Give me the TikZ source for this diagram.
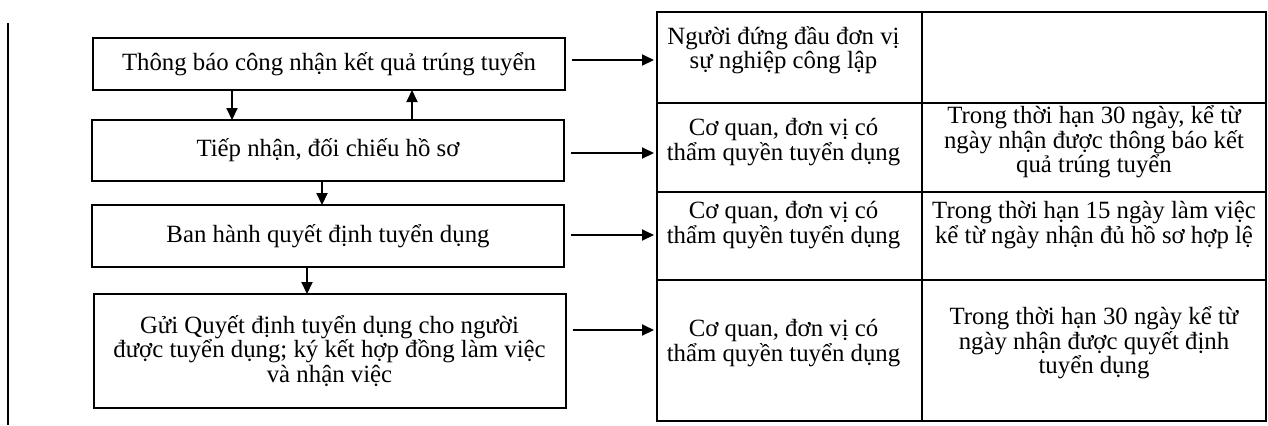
\documentclass[tikz,border=0pt]{standalone}
\usepackage{fontspec}
\setmainfont{Liberation Serif}
\usetikzlibrary{arrows.meta}
\begin{document}
\begin{tikzpicture}[x=0.5pt,y=-0.5pt,
  every node/.style={font=\fontsize{12.4}{12.3}\selectfont},
  stepbox/.style={draw,line width=1pt,minimum width=236pt,inner sep=0pt,outer sep=0pt,align=center},
  cell/.style={draw,line width=0.8pt,inner sep=0pt,outer sep=0pt},
  celltext/.style={align=center,inner sep=0pt},
  arr/.style={line width=1pt,-{Triangle[length=6pt,width=5.5pt]}},
  harr/.style={arr,shorten <=3.5pt,shorten >=1.5pt}]
\useasboundingbox (0,0) rectangle (1268,425);

% margin rule on the left
\draw[line width=1pt] (8,23) -- (8,425);

% process steps
\node[stepbox,minimum height=26pt]   (b1) at (329,64)    {Thông báo công nhận kết quả trúng tuyển};
\node[stepbox,minimum height=30.5pt] (b2) at (328,150.5) {Tiếp nhận, đối chiếu hồ sơ};
\node[stepbox,minimum height=31pt]   (b3) at (328,236)   {Ban hành quyết định tuyển dụng};
\node[stepbox,minimum height=57pt]   (b4) at (329.5,351) {Gửi Quyết định tuyển dụng cho người\\được tuyển dụng; ký kết hợp đồng làm việc\\và nhận việc};

% vertical links between steps
\coordinate (v1) at (232,0);
\coordinate (v2) at (412,0);
\coordinate (v3) at (322,0);
\coordinate (v4) at (307,0);
\draw[arr] (b1.south -| v1) -- (b2.north -| v1);
\draw[arr] (b2.north -| v2) -- (b1.south -| v2);
\draw[arr] (b2.south -| v3) -- (b3.north -| v3);
\draw[arr] (b3.south -| v4) -- (b4.north -| v4);

% responsibility / deadline table
\node[cell,minimum width=132.5pt,minimum height=45.5pt] (c11) at (789.5,57.5)  {};
\node[cell,minimum width=172pt,  minimum height=45.5pt] (c12) at (1094,57.5)   {};
\node[cell,minimum width=132.5pt,minimum height=44.5pt] (c21) at (789.5,147.5) {};
\node[cell,minimum width=172pt,  minimum height=44.5pt] (c22) at (1094,147.5)  {};
\node[cell,minimum width=132.5pt,minimum height=44pt]   (c31) at (789.5,236)   {};
\node[cell,minimum width=172pt,  minimum height=44pt]   (c32) at (1094,236)    {};
\node[cell,minimum width=132.5pt,minimum height=70.5pt] (c41) at (789.5,350.5) {};
\node[cell,minimum width=172pt,  minimum height=70.5pt] (c42) at (1094,350.5)  {};

\node[celltext] (t11) at ([xshift=-3pt,yshift=3.75pt]c11.center) {Người đứng đầu đơn vị\\sự nghiệp công lập};
\node[celltext] (t21) at ([xshift=-3pt,yshift=2.75pt]c21.center) {Cơ quan, đơn vị có\\thẩm quyền tuyển dụng};
\node[celltext] (t22) at ([yshift=2.75pt]c22.center) {Trong thời hạn 30 ngày, kể từ\\ngày nhận được thông báo kết\\quả trúng tuyển};
\node[celltext] (t31) at ([xshift=-3pt,yshift=5.5pt]c31.center) {Cơ quan, đơn vị có\\thẩm quyền tuyển dụng};
\node[celltext] (t32) at ([yshift=5.5pt]c32.center) {Trong thời hạn 15 ngày làm việc\\kể từ ngày nhận đủ hồ sơ hợp lệ};
\node[celltext] (t41) at ([xshift=-3pt,yshift=3.75pt]c41.center) {Cơ quan, đơn vị có\\thẩm quyền tuyển dụng};
\node[celltext] (t42) at ([yshift=3.75pt]c42.center) {Trong thời hạn 30 ngày kể từ\\ngày nhận được quyết định\\tuyển dụng};

% links from steps to the table
\coordinate (h1) at ([yshift=2pt]b1.east);
\coordinate (h2) at ([yshift=-1.25pt]b2.east);
\coordinate (h3) at ([yshift=0.5pt]b3.east);
\coordinate (h4) at ([yshift=10.5pt]b4.east);
\draw[harr] (h1) -- (h1 -| c11.west);
\draw[harr] (h2) -- (h2 -| c21.west);
\draw[harr] (h3) -- (h3 -| c31.west);
\draw[harr] (h4) -- (h4 -| c41.west);
\end{tikzpicture}
\end{document}
